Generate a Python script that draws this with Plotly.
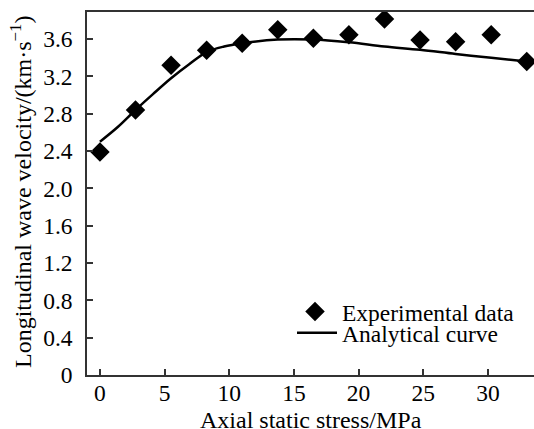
import plotly.graph_objects as go

# Experimental data
exp_stress = [0, 2.75, 5.5, 8.25, 11, 13.75, 16.5, 19.25, 22, 24.75, 27.5, 30.25, 33]
exp_velocity = [2.39, 2.84, 3.32, 3.48, 3.555, 3.70, 3.61, 3.645, 3.815, 3.59, 3.57, 3.645, 3.36]

# Analytical curve
curve_stress = [0, 1.4, 2.75, 4.1, 5.5, 6.9, 8.25, 9.6, 11, 13.75, 16.5, 19.25, 22, 24.75, 27.5, 30.25, 33]
curve_velocity = [2.50, 2.66, 2.84, 3.01, 3.18, 3.33, 3.46, 3.52, 3.555, 3.595, 3.595, 3.565, 3.52, 3.485, 3.44, 3.40, 3.36]

x_ticks = [0, 5, 10, 15, 20, 25, 30]
y_ticks = [0, 0.4, 0.8, 1.2, 1.6, 2.0, 2.4, 2.8, 3.2, 3.6]
y_tick_text = ["0", "0.4", "0.8", "1.2", "1.6", "2.0", "2.4", "2.8", "3.2", "3.6"]

x_title = "Axial static stress/MPa"
y_title = "Longitudinal wave velocity/(km·s<sup>−1</sup>)"

FONT = "Liberation Serif"
W, H = 534, 429
ML, MR, MT, MB = 87, 0, 12, 54
PW, PH = W - ML - MR, H - MT - MB


def px_x(p):
    return (p - ML) / PW


def px_y(p):
    return (H - MB - p) / PH


fig = go.Figure()
fig.add_trace(go.Scatter(
    x=exp_stress, y=exp_velocity, mode="markers", name="Experimental data",
    marker=dict(symbol="diamond", size=15, color="black"), legend="legend",
))
fig.add_trace(go.Scatter(
    x=curve_stress, y=curve_velocity, mode="lines", name="Analytical curve",
    line=dict(color="black", width=2.5, shape="spline", smoothing=1.0), legend="legend2",
))

axis_common = dict(
    showgrid=False, zeroline=False, showline=True, linecolor="#333333", linewidth=1.5,
    ticks="inside", ticklen=6, tickwidth=1.5, tickcolor="#333333", automargin=False,
    tickfont=dict(family=FONT, size=23.5, color="black"),
)

legend_common = dict(
    xanchor="left", yanchor="middle", bgcolor="rgba(0,0,0,0)",
    font=dict(family=FONT, size=23.5, color="black"),
)

fig.update_layout(
    width=W, height=H,
    margin=dict(l=ML, r=MR, t=MT, b=MB, autoexpand=False),
    paper_bgcolor="white", plot_bgcolor="white",
    font=dict(family=FONT, color="black"),
    xaxis=dict(
        range=[-1.0, 33.56], tickvals=x_ticks, mirror=True,
        ticklabelstandoff=-4,
        **axis_common,
    ),
    yaxis=dict(
        range=[0, 3.89], tickvals=y_ticks, ticktext=y_tick_text, mirror=False,
        ticklabelstandoff=8,
        **axis_common,
    ),
    legend=dict(x=px_x(288), y=px_y(311.7), itemwidth=44, **legend_common),
    legend2=dict(x=px_x(292), y=px_y(333), itemwidth=40, **legend_common),
    showlegend=True,
    annotations=[
        dict(
            text=y_title, textangle=-90, showarrow=False,
            xref="paper", yref="paper", x=px_x(21), y=px_y(192),
            xanchor="center", yanchor="middle",
            font=dict(family=FONT, size=24, color="black"),
        ),
        dict(
            text=x_title, showarrow=False,
            xref="paper", yref="paper", x=px_x(311), y=px_y(405),
            xanchor="center", yanchor="top",
            font=dict(family=FONT, size=24, color="black"),
        ),
    ],
)

fig.write_html("out.html")
